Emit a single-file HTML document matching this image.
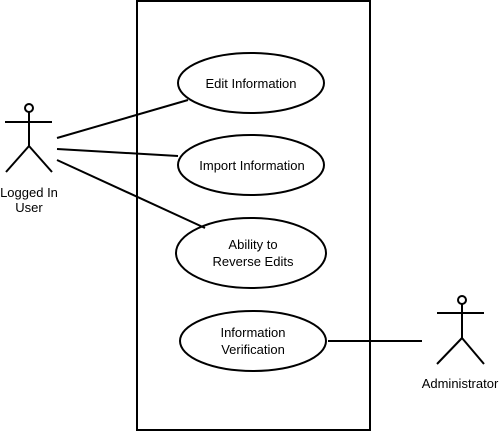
<!DOCTYPE html>
<html><head><style>body{margin:0;background:#fff}</style></head><body>
<svg width="500" height="433" xmlns="http://www.w3.org/2000/svg" font-family="Liberation Sans, sans-serif" font-size="13" fill="none" stroke="#000" stroke-width="2">
<rect x="137" y="1" width="233" height="429"/>
<ellipse cx="251" cy="83" rx="73" ry="30"/>
<ellipse cx="251" cy="165" rx="73" ry="30"/>
<ellipse cx="251" cy="253" rx="75" ry="35"/>
<ellipse cx="253" cy="341" rx="73" ry="30"/>
<line x1="57" y1="138" x2="188" y2="100"/>
<line x1="57" y1="149" x2="178" y2="156"/>
<line x1="57" y1="160" x2="205" y2="228"/>
<line x1="328" y1="341" x2="422" y2="341"/>
<circle cx="29" cy="108" r="4"/>
<line x1="5" y1="122" x2="52" y2="122"/>
<line x1="29" y1="112" x2="29" y2="146"/>
<line x1="29" y1="146" x2="6" y2="172"/>
<line x1="29" y1="146" x2="52" y2="172"/>
<circle cx="462" cy="300" r="4"/>
<line x1="437" y1="313" x2="484" y2="313"/>
<line x1="462" y1="304" x2="462" y2="338"/>
<line x1="462" y1="338" x2="437" y2="364"/>
<line x1="462" y1="338" x2="484" y2="364"/>
<g fill="#000" stroke="none" text-anchor="middle">
<text x="251" y="88">Edit Information</text>
<text x="252" y="170">Import Information</text>
<text x="253" y="249">Ability to</text>
<text x="253" y="266">Reverse Edits</text>
<text x="253" y="337">Information</text>
<text x="253" y="354">Verification</text>
<text x="29" y="197">Logged In</text>
<text x="29" y="212">User</text>
<text x="460" y="388">Administrator</text>
</g>
</svg>
</body></html>
